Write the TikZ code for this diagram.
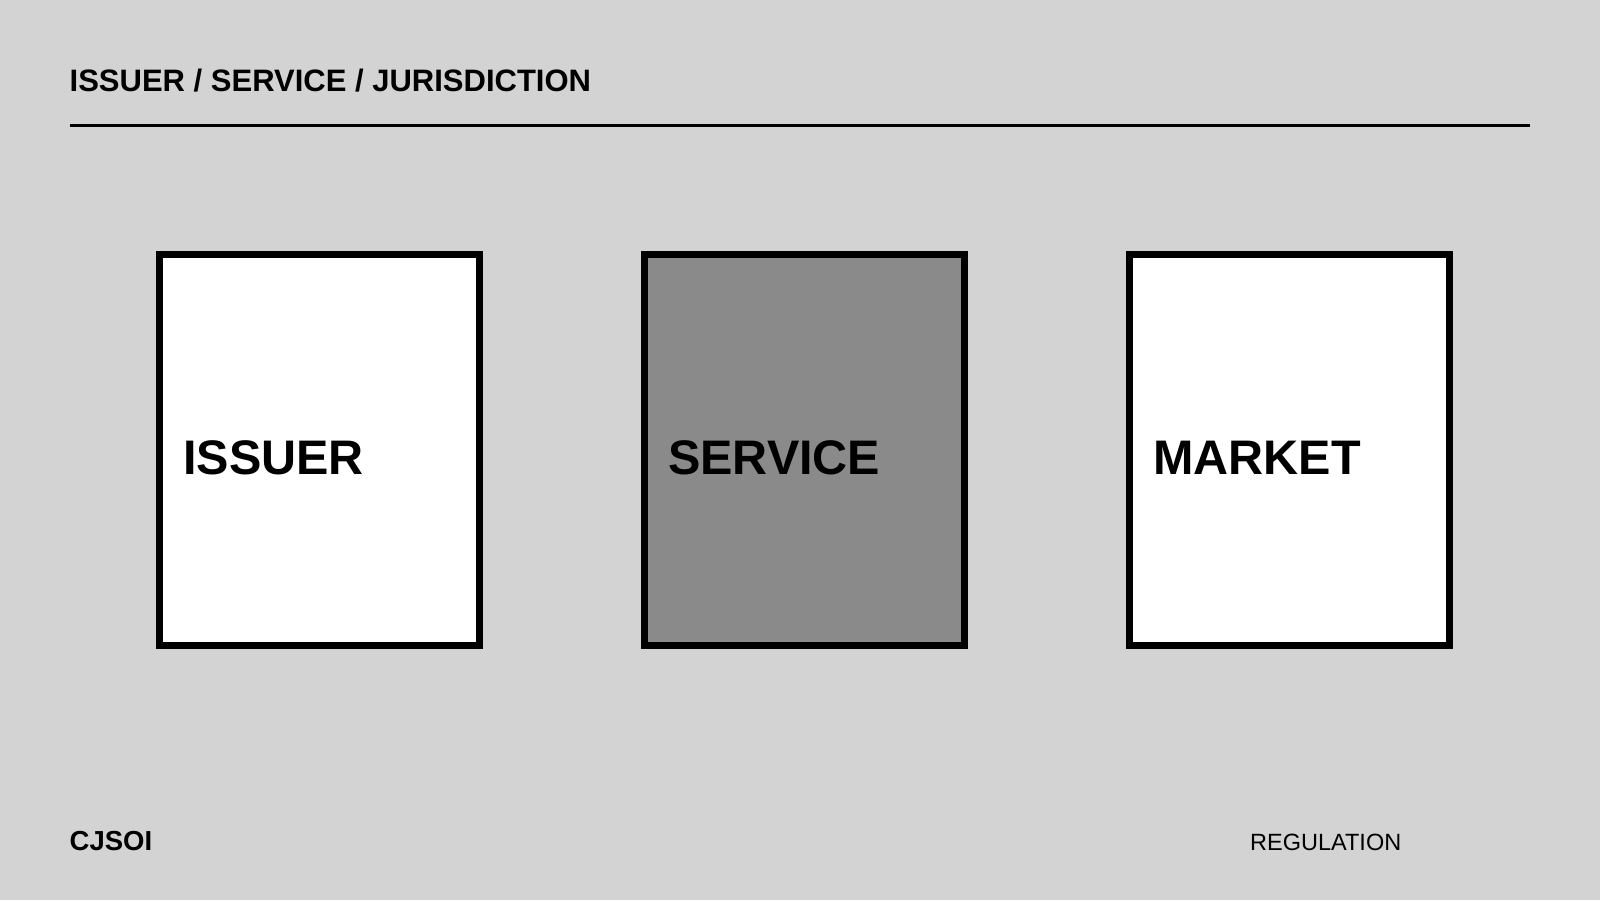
\documentclass[tikz,border=0pt]{standalone}
\usepackage{fontspec}
\setmainfont{Liberation Sans}
\definecolor{bggray}{HTML}{D3D3D3}
\definecolor{midgray}{HTML}{8A8A8A}
\begin{document}
\begin{tikzpicture}[x=1pt,y=1pt,
  panel/.style={draw=black, line width=7pt, minimum width=320pt, minimum height=391pt, inner sep=0pt},
  lbl/.style={anchor=base west, inner sep=0pt, font=\fontsize{48.5}{48.5}\selectfont\bfseries},
  ttl/.style={anchor=base west, inner sep=0pt, font=\fontsize{31}{31}\selectfont\bfseries},
  foot/.style={anchor=base west, inner sep=0pt}]
\fill[bggray] (0,0) rectangle (1600,900);
\useasboundingbox (0,0) rectangle (1600,900);
\node[ttl] (title) at (69.5,808.3) {ISSUER / SERVICE / JURISDICTION};
\coordinate (ruleL) at (70,774.5);
\coordinate (ruleR) at (1530,774.5);
\draw[line width=3pt] (ruleL) -- (ruleR);
\node[panel, fill=white] (issuer) at (319.5,450) {};
\node[panel, fill=midgray] (service) at (804.5,450) {};
\node[panel, fill=white] (market) at (1289.5,450) {};
\node[lbl] (issuerT) at (183,425) {ISSUER};
\node[lbl] (serviceT) at (668,425) {SERVICE};
\node[lbl] (marketT) at (1153,425) {MARKET};
\node[foot, font=\fontsize{27.5}{27.5}\selectfont\bfseries] (brand) at (69.5,50) {CJSOI};
\node[foot, font=\fontsize{23.5}{23.5}\selectfont] (topic) at (1250,50) {REGULATION};
\end{tikzpicture}
\end{document}
